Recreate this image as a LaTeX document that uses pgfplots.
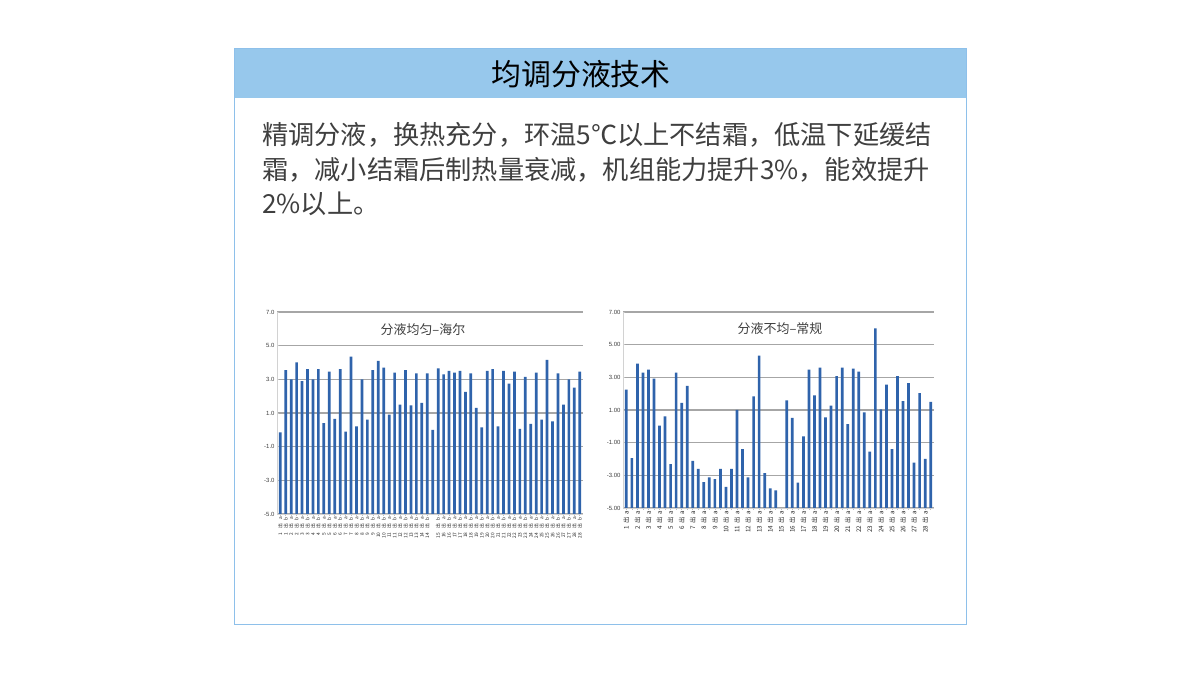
\documentclass[border=0pt]{standalone}
\usepackage{fontspec}
\setmainfont{Noto Sans CJK SC}
\newfontfamily\tickfont{Liberation Sans}
\usepackage{pgfplots}
\pgfplotsset{compat=1.18}
\definecolor{hdr}{HTML}{97C8EC}
\definecolor{frm}{HTML}{8EC0EA}
\definecolor{barc}{HTML}{2F63AB}
\definecolor{gridc}{HTML}{A6A6A6}
\definecolor{txt}{HTML}{3F3F3F}
\newcommand\lftlbl[2]{#1\kern4bp 出\kern4bp #2}
\newcommand\rgtlbl[1]{#1\kern2.5bp 出\kern2.5bp a}

\pgfplotstableread{
x y
1 -0.15
2 3.55
3 3.0
4 4.0
5 2.9
6 3.6
7 3.0
8 3.6
9 0.4
10 3.45
11 0.65
12 3.6
13 -0.1
14 4.35
15 0.2
16 3.0
17 0.6
18 3.55
19 4.1
20 3.7
21 0.9
22 3.4
23 1.5
24 3.55
25 1.45
26 3.35
27 1.6
28 3.35
29 0.0
30 3.65
31 3.3
32 3.5
33 3.4
34 3.5
35 2.25
36 3.35
37 1.3
38 0.15
39 3.5
40 3.6
41 0.2
42 3.5
43 2.75
44 3.45
45 0.05
46 3.15
47 0.35
48 3.4
49 0.6
50 4.15
51 0.5
52 3.35
53 1.5
54 3.0
55 2.5
56 3.45
}\haier

\pgfplotstableread{
x y
1 2.25
2 -1.94
3 3.84
4 3.29
5 3.47
6 2.92
7 0.04
8 0.61
9 -2.31
10 3.29
11 1.43
12 2.47
13 -2.12
14 -2.61
15 -3.41
16 -3.12
17 -3.24
18 -2.61
19 -3.71
20 -2.61
21 1.0
22 -1.39
23 -3.12
24 1.84
25 4.33
26 -2.86
27 -3.80
28 -3.92
30 1.59
31 0.51
32 -3.45
33 -0.61
34 3.47
35 1.90
36 3.59
37 0.55
38 1.27
39 3.08
40 3.59
41 0.14
42 3.53
43 3.35
44 0.86
45 -1.55
46 6.0
47 1.04
48 2.55
49 -1.39
50 3.08
51 1.55
52 2.65
53 -2.22
54 2.04
55 -2.0
56 1.49
}\normal

\pgfplotsset{
  minichart/.style={
    scale only axis,
    anchor=south west,
    ybar, bar width=2.7bp,
    ymin=-5, ymax=7,
    y coord trafo/.code={\pgfmathparse{##1+5}},
    y coord inv trafo/.code={\pgfmathparse{##1-5}},
    ytick={-5,-3,-1,1,3,5,7},
    xmin=0.4, xmax=56.6,
    axis lines*=left,
    axis line style={draw=gray!35, line width=0.8bp},
    ymajorgrids,
    major grid style={draw=gridc, line width=1.1bp},
    tick style={draw=gray!50, line width=0.5bp},
    major tick length=2bp,
    yticklabel style={font=\tickfont\fontsize{6}{6}\selectfont, text=txt, xshift=1bp},
    xticklabel style={font=\fontsize{4.8}{4.8}\selectfont, text=black!85, rotate=90, anchor=east, inner sep=1bp},
    clip=false,
  }
}

\begin{document}
\begin{tikzpicture}
\begin{scope}[x=1bp,y=1bp]
\path[use as bounding box, fill=white] (0,0) rectangle (1200,675);
% frame
\fill[hdr] (234,577) rectangle (966,626);
\draw[frm, line width=1bp] (234,50) rectangle (966,626);
\node[font=\fontsize{30}{30}\selectfont, text=black] at (581,601) {均调分液技术};
% paragraph
\begin{scope}[font=\fontsize{26.3}{26.3}\selectfont, text=txt]
\node[anchor=west, inner sep=0] at (262,540) {精调分液，换热充分，环温5℃以上不结霜，低温下延缓结};
\node[anchor=west, inner sep=0] at (262,505.5) {霜，减小结霜后制热量衰减，机组能力提升3\%，能效提升};
\node[anchor=west, inner sep=0] at (262,471) {2\%以上。};
\end{scope}
\end{scope}

% left chart
\begin{axis}[minichart,
  at={(277bp,161bp)}, width=306bp, height=202bp,
  yticklabels={-5.0,-3.0,-1.0,1.0,3.0,5.0,7.0},
  xtick={1,...,28,30,31,...,56},
  xticklabels={\lftlbl{1}{a},\lftlbl{1}{b},\lftlbl{2}{a},\lftlbl{2}{b},\lftlbl{3}{a},\lftlbl{3}{b},\lftlbl{4}{a},\lftlbl{4}{b},\lftlbl{5}{a},\lftlbl{5}{b},\lftlbl{6}{a},\lftlbl{6}{b},\lftlbl{7}{a},\lftlbl{7}{b},\lftlbl{8}{a},\lftlbl{8}{b},\lftlbl{9}{a},\lftlbl{9}{b},\lftlbl{10}{a},\lftlbl{10}{b},\lftlbl{11}{a},\lftlbl{11}{b},\lftlbl{12}{a},\lftlbl{12}{b},\lftlbl{13}{a},\lftlbl{13}{b},\lftlbl{14}{a},\lftlbl{14}{b},\lftlbl{15}{b},\lftlbl{16}{a},\lftlbl{16}{b},\lftlbl{17}{a},\lftlbl{17}{b},\lftlbl{18}{a},\lftlbl{18}{b},\lftlbl{19}{a},\lftlbl{19}{b},\lftlbl{20}{a},\lftlbl{20}{b},\lftlbl{21}{a},\lftlbl{21}{b},\lftlbl{22}{a},\lftlbl{22}{b},\lftlbl{23}{a},\lftlbl{23}{b},\lftlbl{24}{a},\lftlbl{24}{b},\lftlbl{25}{a},\lftlbl{25}{b},\lftlbl{26}{a},\lftlbl{26}{b},\lftlbl{27}{a},\lftlbl{27}{b},\lftlbl{28}{a},\lftlbl{28}{b}},
]
\addplot[fill=barc, draw=none] table[x=x,y=y] {\haier};
\node[font=\fontsize{13}{13}\selectfont, text=txt] at (rel axis cs:0.477,0.915) {分液均匀–海尔};
\end{axis}

% right chart
\begin{axis}[minichart,
  at={(623bp,167bp)}, width=311bp, height=196bp,
  yticklabels={-5.00,-3.00,-1.00,1.00,3.00,5.00,7.00},
  xtick={1,3,...,55},
  minor xtick={2,4,...,56},
  minor tick length=2bp,
  xticklabels={\rgtlbl{1},\rgtlbl{2},\rgtlbl{3},\rgtlbl{4},\rgtlbl{5},\rgtlbl{6},\rgtlbl{7},\rgtlbl{8},\rgtlbl{9},\rgtlbl{10},\rgtlbl{11},\rgtlbl{12},\rgtlbl{13},\rgtlbl{14},\rgtlbl{15},\rgtlbl{16},\rgtlbl{17},\rgtlbl{18},\rgtlbl{19},\rgtlbl{20},\rgtlbl{21},\rgtlbl{22},\rgtlbl{23},\rgtlbl{24},\rgtlbl{25},\rgtlbl{26},\rgtlbl{27},\rgtlbl{28}},
  xticklabel style={font=\fontsize{6.3}{6.3}\selectfont},
]
\addplot[fill=barc, draw=none] table[x=x,y=y] {\normal};
\node[font=\fontsize{13}{13}\selectfont, text=txt] at (rel axis cs:0.505,0.915) {分液不均–常规};
\end{axis}
\end{tikzpicture}
\end{document}
